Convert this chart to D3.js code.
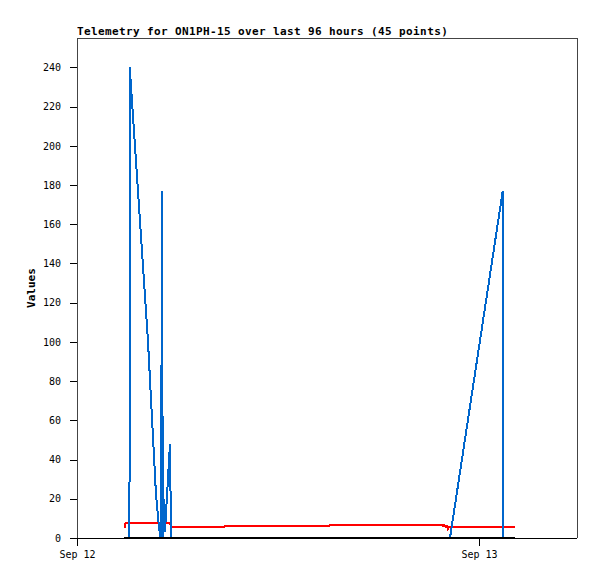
<!DOCTYPE html>
<html>
<head>
<meta charset="utf-8">
<script src="https://cdn.jsdelivr.net/npm/d3@7"></script>
<style>
  body { margin: 0; background: #fff; }
  svg text { font-family: "DejaVu Sans Mono", monospace; }
</style>
</head>
<body>
<div id="diagram"></div>
<script>
// telemetry samples (45 points), local time
const times = [
  '2023-09-12 02:50', '2023-09-12 02:54', '2023-09-12 03:08', '2023-09-12 03:09', '2023-09-12 04:14',
  '2023-09-12 04:43', '2023-09-12 04:54', '2023-09-12 04:59', '2023-09-12 05:02', '2023-09-12 05:04',
  '2023-09-12 05:05', '2023-09-12 05:07', '2023-09-12 05:12', '2023-09-12 05:15', '2023-09-12 05:33',
  '2023-09-12 05:37', '2023-09-12 06:05', '2023-09-12 07:53', '2023-09-12 08:47', '2023-09-12 08:50',
  '2023-09-12 09:40', '2023-09-12 10:52', '2023-09-12 12:04', '2023-09-12 13:15', '2023-09-12 14:09',
  '2023-09-12 15:03', '2023-09-12 15:06', '2023-09-12 16:14', '2023-09-12 17:26', '2023-09-12 18:38',
  '2023-09-12 19:49', '2023-09-12 20:43', '2023-09-12 21:19', '2023-09-12 21:48', '2023-09-12 21:51',
  '2023-09-12 21:55', '2023-09-12 22:02', '2023-09-12 22:05', '2023-09-12 22:09', '2023-09-12 22:13',
  '2023-09-12 22:16', '2023-09-13 01:25', '2023-09-13 01:26', '2023-09-13 01:29', '2023-09-13 02:09'
];
const blueValues = [
  0, 0, 0, 240, 101,
  22, 5, 0, 88, 0,
  177, 0, 20, 3, 48,
  0, 0, 0, 0, 0,
  0, 0, 0, 0, 0,
  0, 0, 0, 0, 0,
  0, 0, 0, 0, 0,
  0, 0, 0, 0, 0,
  0, 177, 0, 0, 0
];
const redValues = [
  5.0, 7.6, 7.6, 7.6, 7.6,
  7.6, 7.6, 7.6, 7.6, 7.6,
  7.6, 7.6, 7.6, 7.6, 7.6,
  5.8, 5.8, 5.8, 5.8, 6.3,
  6.3, 6.3, 6.3, 6.3, 6.3,
  6.3, 6.8, 6.8, 6.8, 6.8,
  6.8, 6.8, 6.8, 6.8, 6.0,
  6.6, 5.5, 6.2, 4.5, 5.7,
  5.7, 5.7, 4.8, 5.7, 5.7
];
const blackValues = times.map(() => 0);
const yTicks = [0, 20, 40, 60, 80, 100, 120, 140, 160, 180, 200, 220, 240];
const xStart = '2023-09-12 00:00';
const xEnd = '2023-09-13 05:51';

!(function () {
  'use strict';
  let
    parse = d3.timeParse('%Y-%m-%d %H:%M'),
    canvas = { width: 597, height: 579 },
    pad = { top: 38, right: 20, bottom: 41, left: 77 },
    svg, xScale, yScale, line;

  svg = d3.select('#diagram').append('svg')
    .attr('width', canvas.width)
    .attr('height', canvas.height);

  xScale = d3.scaleTime()
    .domain([parse(xStart), parse(xEnd)])
    .range([pad.left, canvas.width - pad.right]);

  yScale = d3.scaleLinear()
    .domain([0, 255])
    .range([canvas.height - pad.bottom, pad.top]);

  // frame
  svg.append('path')
    .attr('d', 'M' + pad.left + ',' + (canvas.height - pad.bottom) + 'V' + pad.top +
      'H' + (canvas.width - pad.right) + 'V' + (canvas.height - pad.bottom))
    .attr('fill', 'none')
    .attr('stroke', '#444')
    .attr('shape-rendering', 'crispEdges');

  // y axis
  let gy = svg.append('g')
    .attr('transform', 'translate(' + pad.left + ',0)')
    .call(d3.axisLeft(yScale).tickValues(yTicks).tickSize(7).tickPadding(9));
  gy.select('.domain').remove();

  // x axis
  let gx = svg.append('g')
    .attr('transform', 'translate(0,' + (canvas.height - pad.bottom) + ')')
    .call(d3.axisBottom(xScale).ticks(d3.timeDay.every(1)).tickFormat(d3.timeFormat('%b %d'))
      .tickSize(8).tickPadding(5));
  gx.select('.domain').attr('d', 'M' + pad.left + ',0H' + (canvas.width - pad.right));

  svg.selectAll('.tick line, .domain').attr('shape-rendering', 'crispEdges').attr('stroke', '#000');
  svg.selectAll('.tick text').attr('font-size', 10).attr('font-family', '"DejaVu Sans Mono", monospace').attr('fill', '#000');

  // labels
  svg.append('text')
    .attr('x', pad.left)
    .attr('y', 35)
    .attr('font-size', 11)
    .attr('font-weight', 'bold')
    .attr('letter-spacing', 0.38)
    .text('Telemetry for ON1PH-15 over last 96 hours (45 points)');

  svg.append('text')
    .attr('transform', 'translate(35,' + (pad.top + (canvas.height - pad.bottom - pad.top) / 2) + ') rotate(-90)')
    .attr('text-anchor', 'middle')
    .attr('font-size', 11)
    .attr('font-weight', 'bold')
    .text('Values');

  // series
  line = d3.line()
    .x((d, i) => xScale(parse(times[i])))
    .y(d => yScale(d));

  [[redValues, '#ff0000'], [blueValues, '#0066cc'], [blackValues, '#000000']].forEach(function (s) {
    svg.append('path')
      .attr('d', line(s[0]))
      .attr('fill', 'none')
      .attr('stroke', s[1])
      .attr('stroke-width', 2)
      .attr('shape-rendering', 'crispEdges');
  });
}());
</script>
</body>
</html>
